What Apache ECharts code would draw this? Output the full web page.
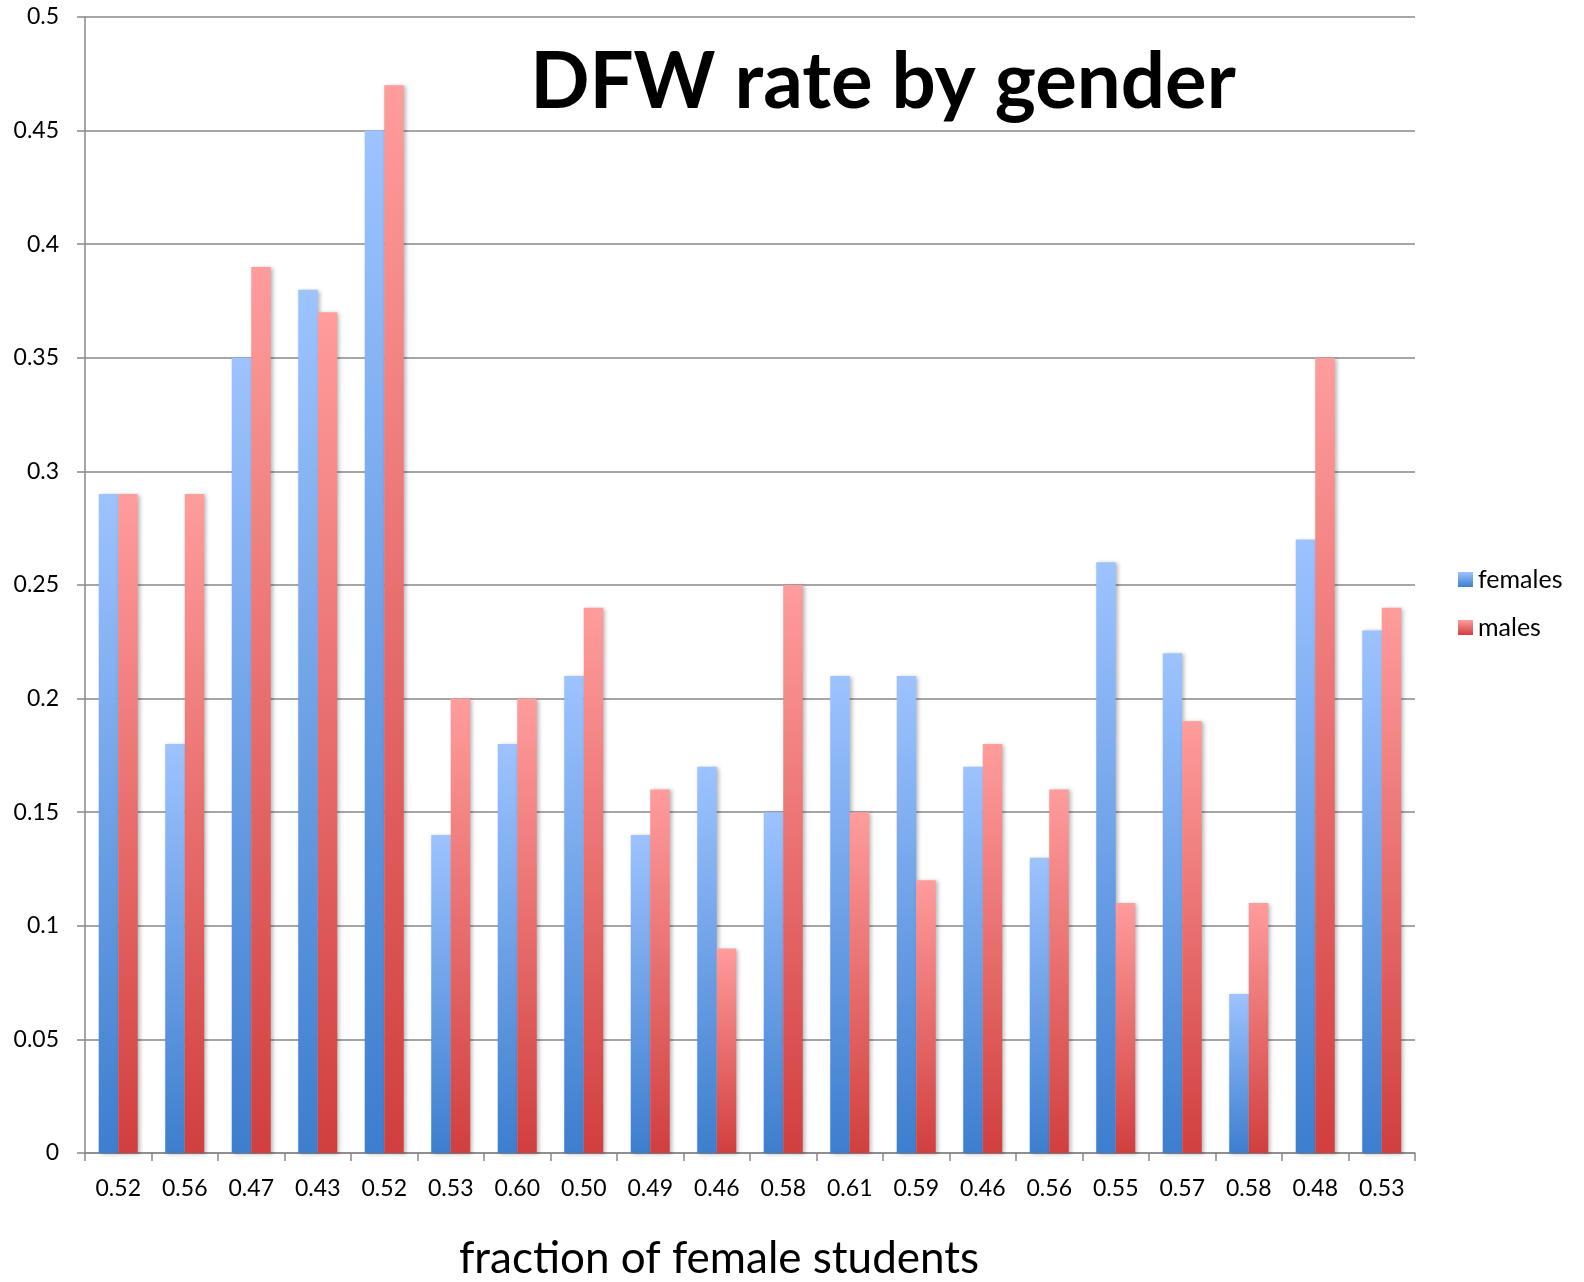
<!DOCTYPE html>
<html>
<head>
<meta charset="utf-8">
<script src="https://cdn.jsdelivr.net/npm/echarts@6/dist/echarts.min.js"></script>
<style>
  html, body { margin: 0; padding: 0; background: #fff; }
  #chart { width: 1584px; height: 1282px; }
</style>
</head>
<body>
<div id="chart"></div>
<script>
// Fraction of female students in each course section
const sectionLabels = ['0.52', '0.56', '0.47', '0.43', '0.52', '0.53', '0.60', '0.50', '0.49', '0.46',
                       '0.58', '0.61', '0.59', '0.46', '0.56', '0.55', '0.57', '0.58', '0.48', '0.53'];
// DFW rate per section
const femaleRates = [0.29, 0.18, 0.35, 0.38, 0.45, 0.14, 0.18, 0.21, 0.14, 0.17,
                     0.15, 0.21, 0.21, 0.17, 0.13, 0.26, 0.22, 0.07, 0.27, 0.23];
const maleRates   = [0.29, 0.29, 0.39, 0.37, 0.47, 0.20, 0.20, 0.24, 0.16, 0.09,
                     0.25, 0.15, 0.12, 0.18, 0.16, 0.11, 0.19, 0.11, 0.35, 0.24];
const yTicks = { min: 0, max: 0.5, step: 0.05 };

const FONT = 'Lato, "Open Sans", sans-serif';
const grad = (top, bottom) => new echarts.graphic.LinearGradient(0, 0, 0, 1, [
  { offset: 0, color: top }, { offset: 1, color: bottom }
]);
const barShadow = { shadowColor: 'rgba(0,0,0,0.28)', shadowBlur: 4, shadowOffsetX: 2, shadowOffsetY: 1 };

const chart = echarts.init(document.getElementById('chart'));
chart.setOption({
  backgroundColor: '#fff',
  animation: false,
  title: {
    text: 'DFW rate by gender',
    left: 878, top: 39, textAlign: 'center',
    textStyle: { fontFamily: FONT, fontWeight: 'bold', fontSize: 78, color: '#000' }
  },
  legend: {
    orient: 'vertical',
    left: 1453, top: 560,
    itemWidth: 15, itemHeight: 15, itemGap: 19,
    icon: 'rect',
    textStyle: { fontFamily: FONT, fontSize: 25, color: '#000', lineHeight: 29 },
    data: ['females', 'males']
  },
  grid: { left: 85, right: 169, top: 17, bottom: 129, containLabel: false, outerBoundsMode: 'none' },
  xAxis: {
    type: 'category',
    data: sectionLabels,
    name: 'fraction of female students',
    nameLocation: 'middle',
    nameGap: 84,
    nameTextStyle: { fontFamily: FONT, fontSize: 44, color: '#000', padding: [0, 62, 0, 0] },
    axisLine: { lineStyle: { color: '#888', width: 1.5 } },
    axisTick: { show: true, length: 8, lineStyle: { color: '#888', width: 1.5 } },
    axisLabel: { fontFamily: FONT, fontSize: 23, color: '#000', margin: 24, interval: 0 }
  },
  yAxis: {
    type: 'value',
    min: yTicks.min, max: yTicks.max, interval: yTicks.step,
    axisLine: { show: true, lineStyle: { color: '#888', width: 1.5 } },
    axisTick: { show: true, length: 8, lineStyle: { color: '#888', width: 1.5 } },
    axisLabel: { fontFamily: FONT, fontSize: 23, color: '#000', margin: 26,
                 formatter: v => String(+v.toFixed(2)) },
    splitLine: { lineStyle: { color: '#888', width: 1.5 } }
  },
  series: [
    {
      name: 'females', type: 'bar', data: femaleRates,
      barWidth: 19.5, barGap: '0%',
      itemStyle: Object.assign({ color: grad('#9DC3FF', '#3D7ECE') }, barShadow)
    },
    {
      name: 'males', type: 'bar', data: maleRates,
      barWidth: 19.5, barGap: '0%',
      itemStyle: Object.assign({ color: grad('#FF9C9C', '#D13F3F') }, barShadow)
    }
  ]
});
</script>
</body>
</html>
